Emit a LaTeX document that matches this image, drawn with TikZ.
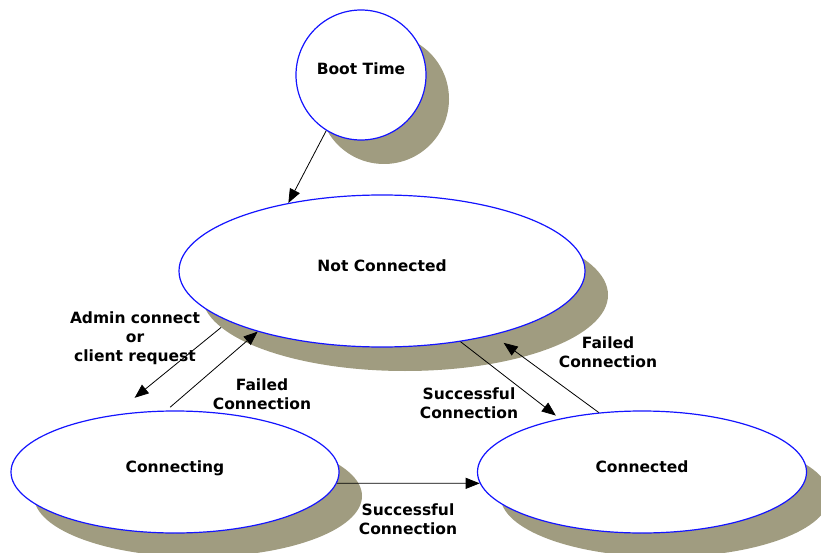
\documentclass[tikz,border=0pt]{standalone}
\usepackage{fontspec}
\setmainfont{DejaVu Sans}
\usepackage{xcolor}
\usetikzlibrary{shapes,arrows.meta,positioning}
\definecolor{shadowgray}{RGB}{160,156,128}
\definecolor{stateblue}{RGB}{20,20,255}
\tikzset{
  state/.style={ellipse, draw=stateblue, line width=1.2pt, fill=white, inner sep=0pt,
    text height=11pt, text depth=11pt, font=\fontsize{15.5}{18.5}\selectfont\bfseries},
  stateshadow/.style={ellipse, fill=shadowgray, inner sep=0pt},
  transition/.style={-{Triangle[length=14pt,width=11pt]}, line width=0.8pt},
  edgetext/.style={align=center, inner sep=0pt, font=\fontsize{15.5}{19}\selectfont\bfseries}
}
\begin{document}
\begin{tikzpicture}[x=1pt,y=-1pt]
        \useasboundingbox (0,0) rectangle (821,553);
        \node[stateshadow, minimum size=130pt] (bootShadow) at (384,99) {};
        \node[stateshadow, minimum width=406pt, minimum height=152pt] (notconnShadow) at (405,295) {};
        \node[stateshadow, minimum width=328pt, minimum height=122pt] (connectingShadow) at (198,496) {};
        \node[stateshadow, minimum width=329pt, minimum height=122pt] (connectedShadow) at (665,496) {};
        \node[state, minimum size=130pt] (boot) at (361,75) {Boot Time};
        \node[state, minimum width=406pt, minimum height=152pt] (notconn) at (382,271) {Not Connected};
        \node[state, minimum width=328pt, minimum height=122pt] (connecting) at (175,472) {Connecting};
        \node[state, minimum width=329pt, minimum height=122pt] (connected) at (642,472) {Connected};
        \draw[transition] (boot.238) -- (notconn.144);
        \draw[transition, shorten >=27pt] (notconnShadow.190) -- (connecting.137);
        \draw[transition, shorten <=5pt] (connecting.98) -- (notconn.206);
        \draw[transition, shorten >=5pt] (notconn.318) -- (connected.147);
        \draw[transition, shorten >=13pt] (connected.126) -- (notconn.330);
        \draw[transition] (connecting.-4.6) -- (connected.184.6);
        \node[edgetext] (adminLabel) at (135,338) {Admin connect\\or\\client request};
        \node[edgetext] (failLeftLabel) at (262,394) {Failed\\Connection};
        \node[edgetext] (successMidLabel) at (469,403) {Successful\\Connection};
        \node[edgetext] (failRightLabel) at (608,352) {Failed\\Connection};
        \node[edgetext] (successBottomLabel) at (408,519) {Successful\\Connection};
    \end{tikzpicture}
\end{document}
